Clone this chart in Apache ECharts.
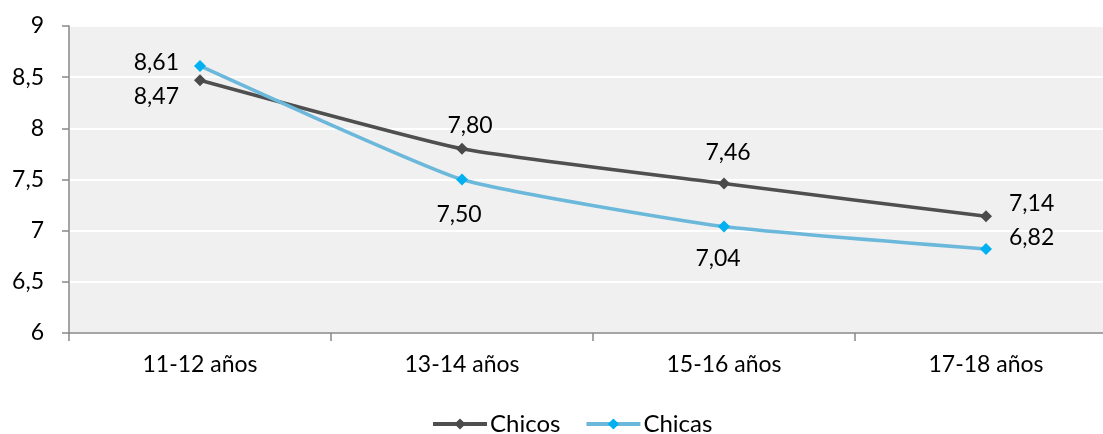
<!DOCTYPE html>
<html><head><meta charset="utf-8">
<script src="https://cdn.jsdelivr.net/npm/echarts@6/dist/echarts.min.js"></script>
<style>html,body{margin:0;padding:0;background:#fff;overflow:hidden;width:1103px;height:434px}#c{width:1117px;height:434px}</style>
</head><body><div id="c"></div>
<script>
const categories = ['11-12 años', '13-14 años', '15-16 años', '17-18 años'];
const chicos = [8.47, 7.80, 7.46, 7.14];
const chicas = [8.61, 7.50, 7.04, 6.82];
const yTicks = [6, 6.5, 7, 7.5, 8, 8.5, 9];

const chicosLabelPos = [{p:'left',o:[-10,16]},{p:'top',o:[8,-1]},{p:'top',o:[4,-9]},{p:'right',o:[12,-13]}];
const chicasLabelPos = [{p:'left',o:[-10,-3]},{p:'bottom',o:[-3,13]},{p:'bottom',o:[-6,10]},{p:'right',o:[12,-12]}];
const fmt = v => v.toFixed(2).replace('.', ',');
const FONT = 'Lato';

function build(vals, pos) {
  return vals.map((v, i) => ({
    value: v,
    label: { show: true, position: pos[i].p, offset: pos[i].o, formatter: fmt(v) }
  }));
}

const chart = echarts.init(document.getElementById('c'), null, {renderer: 'canvas'});
chart.setOption({
  animation: false,
  textStyle: { fontFamily: FONT },
  grid: { left: 69, right: 0, top: 26, bottom: 101, show: true, backgroundColor: '#f0f0f0', borderWidth: 0 },
  legend: {
    top: 407, left: 426, itemWidth: 54, itemHeight: 14, itemGap: 24,
    lineStyle: { width: 4 },
    textStyle: { fontFamily: FONT, fontSize: 24, color: '#000', padding: [0,0,0,-2] },
    data: ['Chicos', 'Chicas']
  },
  xAxis: {
    type: 'category', data: categories, boundaryGap: true,
    axisLine: { lineStyle: { color: '#888', width: 1.5 } },
    axisTick: { show: true, length: 8, lineStyle: { color: '#888', width: 1.5 } },
    axisLabel: { fontFamily: FONT, fontSize: 23, color: '#000', margin: 20 }
  },
  yAxis: {
    type: 'value', min: yTicks[0], max: yTicks[yTicks.length-1], interval: 0.5,
    axisLine: { show: true, lineStyle: { color: '#888', width: 1.5 } },
    axisTick: { show: true, length: 7, lineStyle: { color: '#888', width: 1.5 } },
    splitLine: { lineStyle: { color: '#ffffff', width: 2 } },
    axisLabel: { fontFamily: FONT, fontSize: 23, color: '#000', margin: 25,
      formatter: v => String(v).replace('.', ',') }
  },
  series: [
    { name: 'Chicos', type: 'line', smooth: 0.15, data: build(chicos, chicosLabelPos),
      symbol: 'diamond', symbolSize: 12,
      lineStyle: { color: '#4f4f4f', width: 3.5 },
      itemStyle: { color: '#4a4a4a' },
      label: { fontFamily: FONT, fontSize: 23, color: '#000' } },
    { name: 'Chicas', type: 'line', smooth: 0.15, data: build(chicas, chicasLabelPos),
      symbol: 'diamond', symbolSize: 12,
      lineStyle: { color: '#6bb8db', width: 3.5 },
      itemStyle: { color: '#00b0f0' },
      label: { fontFamily: FONT, fontSize: 23, color: '#000' } }
  ]
});
</script></body></html>
